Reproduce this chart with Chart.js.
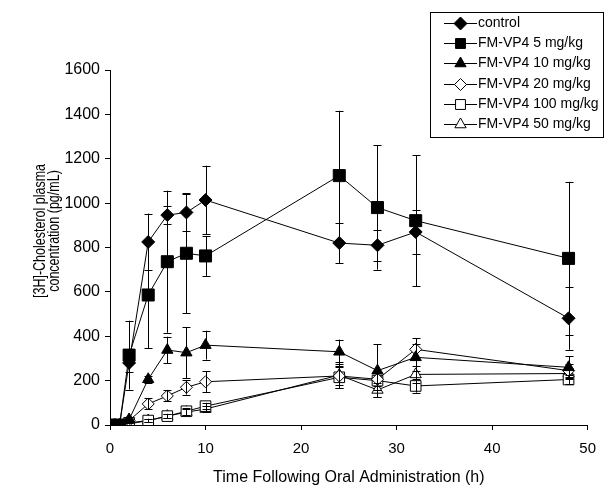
<!DOCTYPE html>
<html>
<head>
<meta charset="utf-8">
<script src="https://cdn.jsdelivr.net/npm/chart.js@4.4.0/dist/chart.umd.min.js"></script>
<style>
  html, body { margin: 0; padding: 0; background: #fff; }
  #chart { display: block; }
</style>
</head>
<body>
<canvas id="chart" width="606" height="487"></canvas>
<script>
// Sampling times (h)
const times = [0, 1, 2, 4, 6, 8, 10, 24, 28, 32, 48];

// Mean plasma concentrations (pg/mL) and their error bars
const control   = [0, 0, 280, 825, 946, 958, 1014, 820, 810, 870, 481];
const controlSd = [0, 0, 40, 128, 42, 84, 155, 90, 70, 100, 142];

const dose5   = [0, 0, 315, 586, 736, 774, 762, 1124, 980, 921, 751];
const dose5Sd = [0, 0, 155, 240, 320, 270, 90, 292, 280, 295, 345];

const dose10   = [0, 0, 25, 206, 338, 326, 360, 330, 245, 305, 260];
const dose10Sd = [0, 0, 10, 15, 60, 115, 65, 55, 120, 60, 50];

const dose20   = [0, 0, 20, 95, 131, 170, 195, 221, 206, 341, 245];
const dose20Sd = [0, 0, 5, 25, 25, 33, 47, 40, 30, 50, 30];

const dose100   = [0, 0, 10, 20, 40, 62, 85, 215, 200, 176, 205];
const dose100Sd = [0, 0, 3, 8, 10, 15, 15, 50, 40, 30, 20];

const dose50   = [0, 0, 5, 20, 40, 58, 72, 225, 158, 228, 232];
const dose50Sd = [0, 0, 3, 8, 10, 15, 15, 60, 30, 40, 25];

const seriesNames = ['control', 'FM-VP4 5 mg/kg', 'FM-VP4 10 mg/kg',
                     'FM-VP4 20 mg/kg', 'FM-VP4 100 mg/kg', 'FM-VP4 50 mg/kg'];
const yTicks = [0, 200, 400, 600, 800, 1000, 1200, 1400, 1600];
const xTicks = [0, 10, 20, 30, 40, 50];

const FONT = 'Arial, "Liberation Sans", sans-serif';

// Build a dataset in the Excel-like black & white style
const makeSeries = (label, values, errors, pointStyle, filled, radius) => ({
    label: label,
    data: times.map((t, i) => ({ x: t, y: values[i] })),
    errors: errors,
    borderColor: '#000',
    borderWidth: 1,
    tension: 0,
    pointStyle: pointStyle,
    pointRadius: radius,
    pointBorderWidth: 1,
    pointBorderColor: '#000',
    pointBackgroundColor: filled ? '#000' : '#fff',
    fill: false
});

const datasets = [
    makeSeries(seriesNames[0], control, controlSd, 'rectRot', true, 6.5),
    makeSeries(seriesNames[1], dose5, dose5Sd, 'rect', true, 8.5),
    makeSeries(seriesNames[2], dose10, dose10Sd, 'triangle', true, 6.5),
    makeSeries(seriesNames[3], dose20, dose20Sd, 'rectRot', false, 6),
    makeSeries(seriesNames[4], dose100, dose100Sd, 'rect', false, 7.5),
    makeSeries(seriesNames[5], dose50, dose50Sd, 'triangle', false, 6.5)
];

/**
 * Vertical error bars with caps, drawn on top of the markers
 */
const errorBars = {
    id: 'errorBars',
    afterDatasetsDraw(chart) {
        const { ctx, scales: { x, y } } = chart;
        ctx.save();
        ctx.strokeStyle = '#000';
        ctx.lineWidth = 1;
        chart.data.datasets.forEach(ds => {
            ds.data.forEach((p, i) => {
                const err = ds.errors[i];
                if (!err) return;
                const px = Math.round(x.getPixelForValue(p.x)) + 0.5;
                const top = y.getPixelForValue(p.y + err);
                const bot = y.getPixelForValue(Math.max(0, p.y - err));
                ctx.beginPath();
                ctx.moveTo(px, top);
                ctx.lineTo(px, bot);
                ctx.moveTo(px - 4, Math.round(top) + 0.5);
                ctx.lineTo(px + 4, Math.round(top) + 0.5);
                if (p.y - err > 0) {
                    ctx.moveTo(px - 4, Math.round(bot) + 0.5);
                    ctx.lineTo(px + 4, Math.round(bot) + 0.5);
                }
                ctx.stroke();
            });
        });
        ctx.restore();
    }
};

/**
 * Boxed legend in the top right corner and the two-line y title
 */
const boxLegend = {
    id: 'boxLegend',
    afterDraw(chart) {
        const ctx = chart.ctx;
        const box = { left: 430.5, top: 12.5, width: 173, height: 125 };
        ctx.save();
        ctx.strokeStyle = '#000';
        ctx.lineWidth = 1;
        ctx.strokeRect(box.left, box.top, box.width, box.height);

        ctx.font = '14px ' + FONT;
        ctx.textBaseline = 'middle';
        ctx.textAlign = 'left';
        chart.data.datasets.forEach((ds, i) => {
            const cy = Math.round(23 + i * 20.2) + 0.5;
            ctx.beginPath();
            ctx.moveTo(444, cy);
            ctx.lineTo(477, cy);
            ctx.stroke();
            ctx.fillStyle = ds.pointBackgroundColor;
            Chart.helpers.drawPoint(ctx, {
                pointStyle: ds.pointStyle,
                radius: Math.min(ds.pointRadius, 7),
                rotation: 0,
                borderWidth: 1
            }, 460.5, cy);
            ctx.fillStyle = '#000';
            ctx.fillText(ds.label, 478, cy);
        });

        // y axis title (glyphs a bit wider, like the stretched original)
        ctx.font = '12.5px ' + FONT;
        ctx.textAlign = 'center';
        ctx.fillStyle = '#000';
        ctx.translate(41, 231);
        ctx.rotate(-Math.PI / 2);
        ctx.scale(1, 1.25);
        ctx.fillText('[3H]-Cholesterol plasma', 0, 0);
        ctx.fillText('concentration (pg/mL)', 0, 14 / 1.25);
        ctx.restore();
    }
};

new Chart(document.getElementById('chart'), {
    type: 'line',
    data: { datasets: datasets },
    options: {
        responsive: false,
        animation: false,
        layout: { padding: { top: 70, right: 14, left: 0, bottom: 0 } },
        plugins: {
            legend: { display: false },
            tooltip: { enabled: false }
        },
        scales: {
            x: {
                type: 'linear',
                min: 0,
                max: 50,
                afterBuildTicks: s => { s.ticks = xTicks.map(v => ({ value: v })); },
                afterFit: s => { s.height = 62; },
                ticks: {
                    padding: 10,
                    maxRotation: 0,
                    color: '#000',
                    font: { family: FONT, size: 15 },
                    callback: v => String(v)
                },
                grid: { drawOnChartArea: false, drawTicks: true, tickLength: 5, color: '#000' },
                border: { color: '#000', width: 1 },
                title: {
                    display: true,
                    text: 'Time Following Oral Administration (h)',
                    color: '#000',
                    font: { family: FONT, size: 16 },
                    padding: { top: 0, bottom: 0 }
                }
            },
            y: {
                min: 0,
                max: 1600,
                afterBuildTicks: s => { s.ticks = yTicks.map(v => ({ value: v })); },
                afterFit: s => { s.width = 110; },
                ticks: {
                    padding: 5,
                    color: '#000',
                    font: { family: FONT, size: 16 },
                    callback: v => String(v)
                },
                grid: { drawOnChartArea: false, drawTicks: true, tickLength: 5, color: '#000' },
                border: { color: '#000', width: 1 }
            }
        }
    },
    plugins: [errorBars, boxLegend]
});
</script>
</body>
</html>
